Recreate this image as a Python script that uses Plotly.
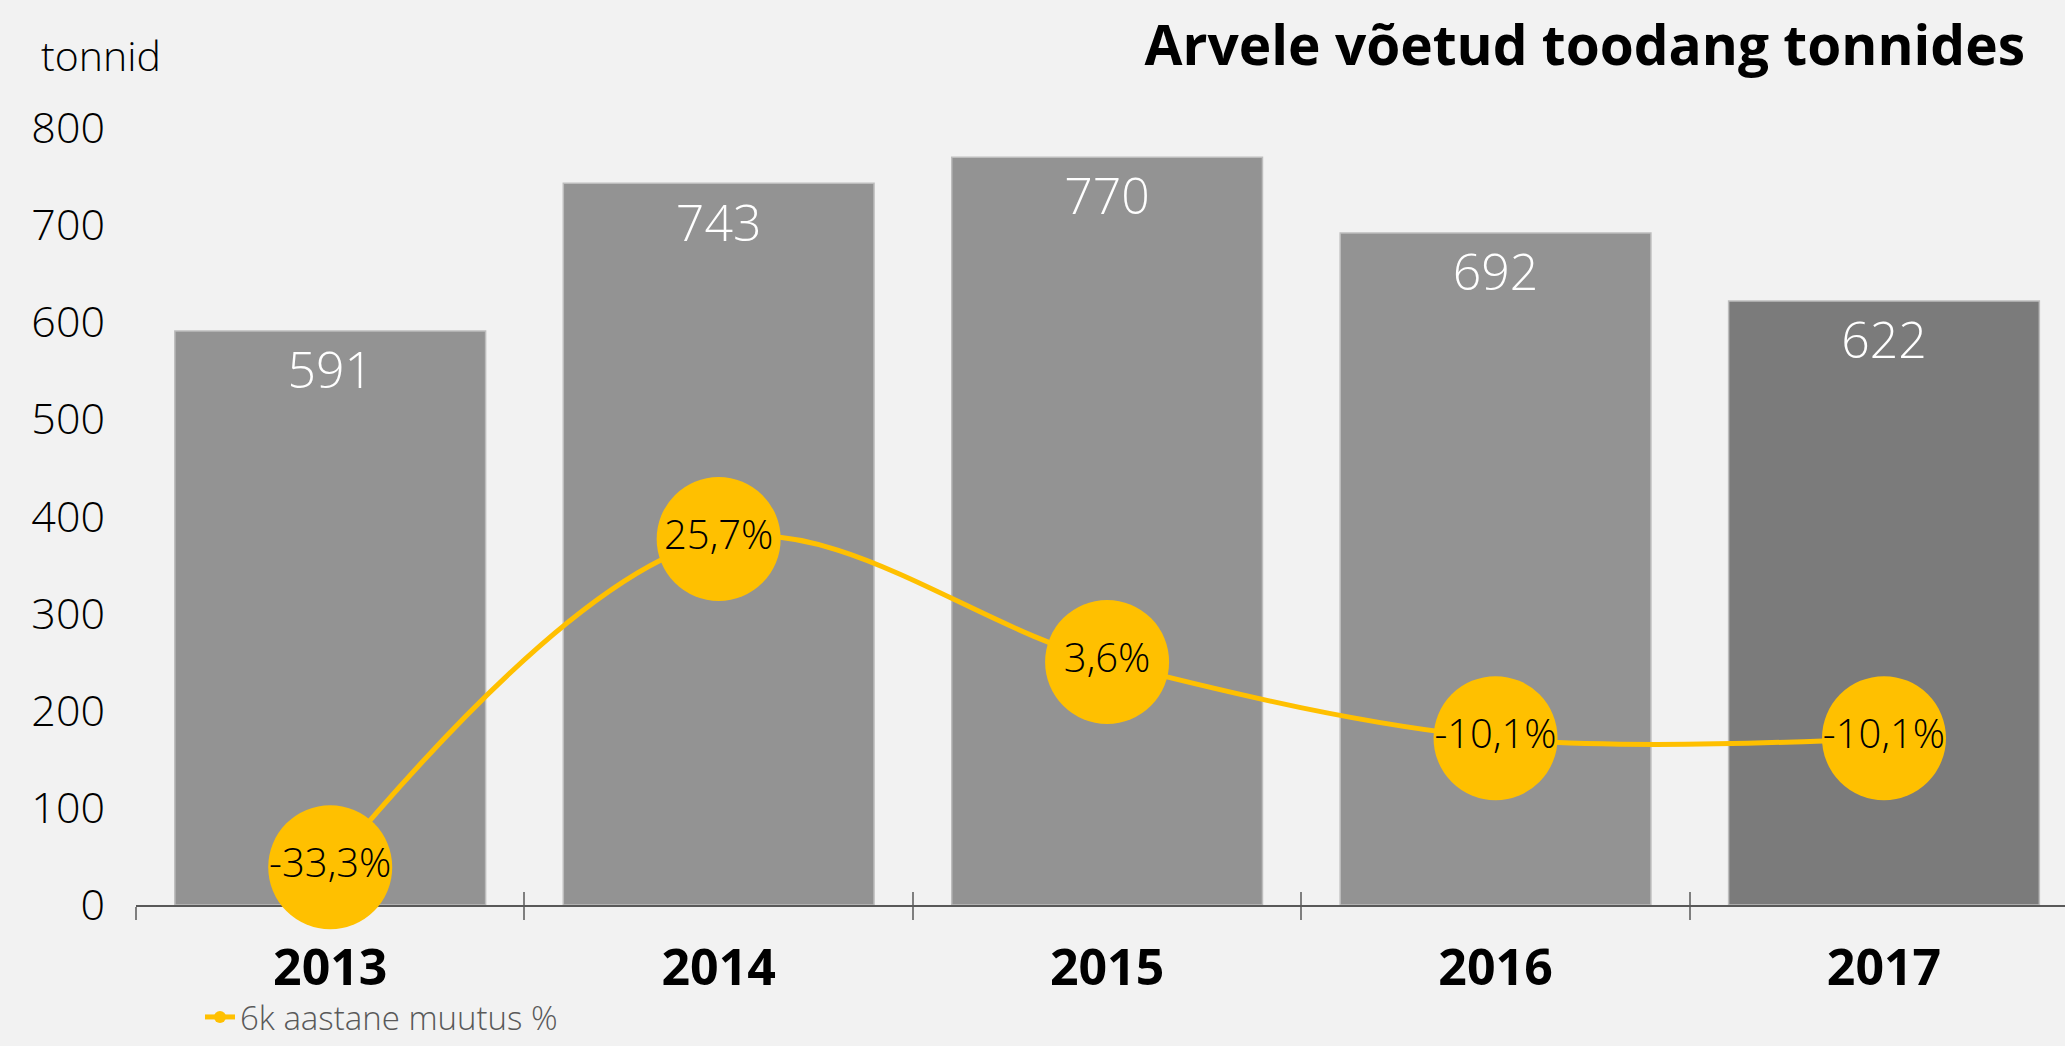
import plotly.graph_objects as go

years = ["2013", "2014", "2015", "2016", "2017"]
tonnes = [591, 743, 770, 692, 622]
change_pct = [-33.3, 25.7, 3.6, -10.1, -10.1]
change_labels = ["-33,3%", "25,7%", "3,6%", "-10,1%", "-10,1%"]
bar_colors = ["#939393", "#939393", "#939393", "#939393", "#7B7B7B"]
y_ticks = [0, 100, 200, 300, 400, 500, 600, 700, 800]

BG = "#F2F2F2"
YEL = "#FFC000"
FONT = "Open Sans"

W, H = 2065, 1046
ML, MT, MB = 136, 128, 141
PW, PH = W - ML, H - MT - MB


def px_to_paper_y(pix):
    return (H - MB - pix) / PH


def px_to_paper_x(pix):
    return (pix - ML) / PW


fig = go.Figure()

fig.add_trace(go.Bar(
    x=years, y=tonnes, marker=dict(color=bar_colors, line=dict(color="#BDBDBD", width=1.5)),
    width=0.8, showlegend=False, hoverinfo="skip", xaxis="x", yaxis="y",
))

# bar value labels
fig.add_trace(go.Scatter(
    x=years, y=tonnes, mode="markers+text", text=[str(v) for v in tonnes],
    textposition="bottom center",
    marker=dict(size=30, opacity=0),
    textfont=dict(family=FONT, size=50, color="white", weight=300),
    showlegend=False, hoverinfo="skip", cliponaxis=False, xaxis="x", yaxis="y",
))

fig.add_trace(go.Scatter(
    x=years, y=change_pct, mode="lines+markers", name="6k aastane muutus %",
    line=dict(color=YEL, width=5, shape="spline", smoothing=1),
    marker=dict(size=124, color=YEL), cliponaxis=False,
    xaxis="x2", yaxis="y2", hoverinfo="skip",
))

fig.add_trace(go.Scatter(
    x=years, y=change_pct, mode="text", text=change_labels,
    textposition="middle center",
    textfont=dict(family=FONT, size=40, color="black", weight=300),
    showlegend=False, cliponaxis=False, xaxis="x2", yaxis="y2", hoverinfo="skip",
))

xr = [-0.5, 4.466]
fig.update_layout(
    width=W, height=H,
    paper_bgcolor=BG, plot_bgcolor=BG,
    margin=dict(l=ML, r=0, t=MT, b=MB),
    bargap=0.2,
    font=dict(family=FONT, color="black"),
    title=dict(text="<b>Arvele võetud toodang tonnides</b>", x=2025 / W, xanchor="right",
               y=1 - 46 / H, yanchor="middle", yref="container", xref="container",
               font=dict(family=FONT, size=55, color="black")),
    xaxis=dict(type="category", categoryorder="array", categoryarray=years, range=xr,
               showline=True, linecolor="#595959", linewidth=2,
               ticks="outside", tickson="boundaries", ticklen=13, tickwidth=2, tickcolor="#7F7F7F",
               tickfont=dict(family=FONT, size=50, color="black", weight=700),
               ticklabelstandoff=18, showgrid=False, zeroline=False, layer="below traces"),
    xaxis2=dict(type="category", categoryorder="array", categoryarray=years, range=xr,
                overlaying="x", anchor="y", side="bottom",
                ticks="inside", tickson="boundaries", ticklen=13, tickwidth=2, tickcolor="#7F7F7F",
                showticklabels=False, showgrid=False, zeroline=False, showline=False,
                layer="below traces"),
    yaxis=dict(range=[0, 800], tickvals=y_ticks, showgrid=False, zeroline=False, showline=False,
               tickfont=dict(family=FONT, size=43, color="black", weight=300),
               ticklabelstandoff=30),
    yaxis2=dict(range=[-40.1, 99.6], overlaying="y", visible=False),
    legend=dict(orientation="h", x=px_to_paper_x(200), xanchor="left",
                y=px_to_paper_y(1017), yanchor="middle",
                font=dict(family=FONT, size=33, color="#595959", weight=300),
                itemsizing="constant", bgcolor="rgba(0,0,0,0)"),
    annotations=[dict(text="tonnid", xref="paper", yref="paper", x=px_to_paper_x(39), y=px_to_paper_y(55),
                      xanchor="left", yanchor="middle", showarrow=False,
                      font=dict(family=FONT, size=41, color="black", weight=300))],
)

fig.write_html("out.html", post_script="document.body.style.margin='0';",
               config={"displayModeBar": False})
